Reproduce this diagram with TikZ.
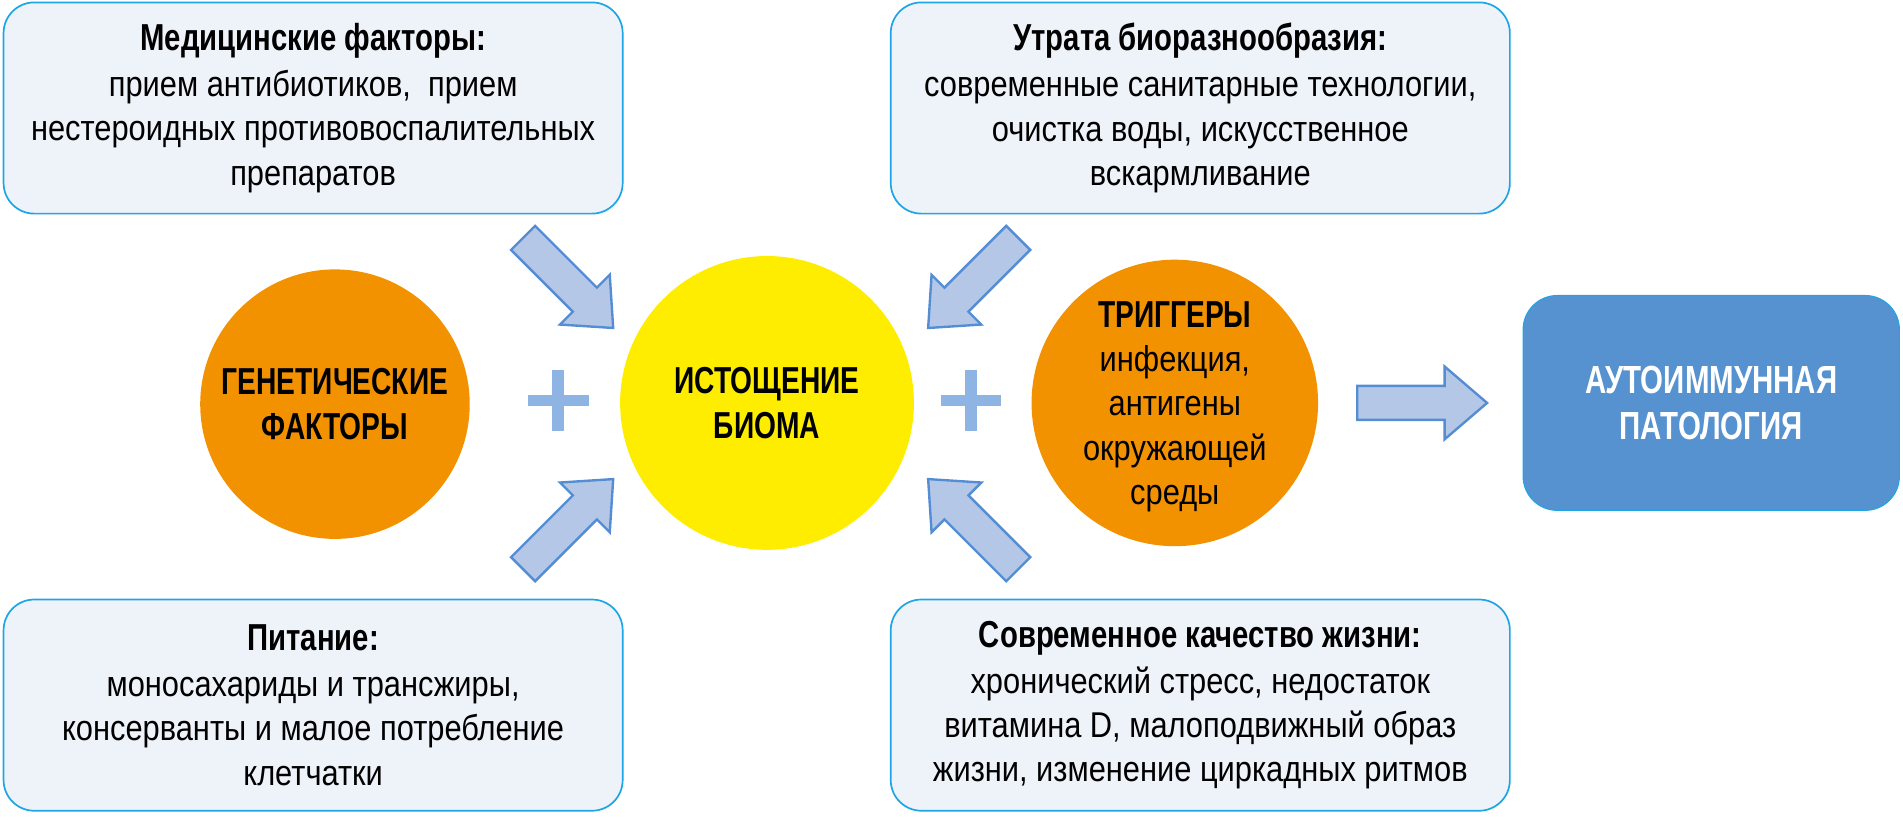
\documentclass[tikz,border=0pt]{standalone}
\usepackage{fontspec}
\setmainfont{Liberation Sans}[FakeStretch=0.86]
\newfontfamily\headfont{Liberation Sans}[FakeStretch=0.78]
\newfontfamily\capsfont{Liberation Sans}[FakeStretch=0.75]
\usetikzlibrary{positioning, calc}
\definecolor{boxfill}{RGB}{238, 243, 250}
\definecolor{boxedge}{RGB}{30, 165, 230}
\definecolor{genorange}{RGB}{243, 146, 0}
\definecolor{biomyellow}{RGB}{255, 237, 0}
\definecolor{arrowfill}{RGB}{180, 199, 231}
\definecolor{arrowedge}{RGB}{84, 141, 212}
\definecolor{plusblue}{RGB}{142, 180, 227}
\definecolor{pathblue}{RGB}{85, 146, 207}

\begin{document}
\begin{tikzpicture}[x=0.025cm, y=-0.025cm,
  factor/.style={draw=boxedge, line width=1pt, fill=boxfill, rounded corners=18pt,
    minimum width=12.75cm, minimum height=4.35cm, align=center,
    font=\fontsize{21}{26}\selectfont},
  ball/.style={circle, inner sep=0pt, align=center, font=\fontsize{21}{26}\selectfont},
  capstext/.style={font=\capsfont\bfseries\fontsize{22}{26.5}\selectfont, align=center},
  plusmark/.style={plusblue, line width=7pt},
  fatarrow/.style={draw=arrowedge, fill=arrowfill, line width=1.4pt, line join=miter}]
  \useasboundingbox (0,0) rectangle (1568,690);

  % Factor boxes
  \node[factor] (med) at (258,89) {{\headfont\bfseries\fontsize{22}{26}\selectfont Медицинские факторы:}\\[1pt]
    прием антибиотиков,~ прием\\ нестероидных противовоспалительных\\ препаратов};
  \node[factor] (bio) at (989,89) {{\headfont\bfseries\fontsize{22}{26}\selectfont Утрата биоразнообразия:}\\[1pt]
    современные санитарные технологии,\\ очистка воды, искусственное\\ вскармливание};
  \node[factor] (food) at (258,581) {{\headfont\bfseries\fontsize{22}{26}\selectfont Питание:}\\[1pt]
    моносахариды и трансжиры,\\ консерванты и малое потребление\\ клетчатки};
  \node[factor] (life) at (989,581) {{\headfont\bfseries\fontsize{22}{26}\selectfont Современное качество жизни:}\\[1pt]
    хронический стресс, недостаток\\ витамина D, малоподвижный образ\\ жизни, изменение циркадных ритмов};

  % Circles
  \node[ball, fill=genorange, minimum size=5.55cm] (gen) at (276,333) {};
  \node[capstext] at (gen) {ГЕНЕТИЧЕСКИЕ\\ ФАКТОРЫ};
  \node[ball, fill=biomyellow, minimum size=6.05cm] (biom) at (632,332) {};
  \node[capstext] at (biom) {ИСТОЩЕНИЕ\\ БИОМА};
  \node[ball, fill=genorange, minimum size=5.9cm] (trig) at (968,332) {};
  \node[ball] at ($(trig)+(0,3)$) {{\capsfont\bfseries\fontsize{22}{26}\selectfont ТРИГГЕРЫ}\\ инфекция,\\ антигены\\ окружающей\\ среды};

  % Result
  \node[draw=boxedge, line width=0.6pt, fill=pathblue, rounded corners=20pt,
    minimum width=7.75cm, minimum height=4.425cm, capstext,
    font=\capsfont\bfseries\fontsize{23}{26.5}\selectfont, text=white] (auto) at (1410,332)
    {АУТОИММУННАЯ\\ ПАТОЛОГИЯ};

  % Plus signs
  \foreach \px in {460, 800} {
    \draw[plusmark] (\px-25,330) -- (\px+25,330);
    \draw[plusmark] (\px,305) -- (\px,355);
  }

  % Block arrows into the biome
  \foreach \px/\py/\ang in {431/196/-45, 431/469/45, 839/196/-135, 839/469/135} {
    \begin{scope}[shift={(\px,\py)}, rotate=\ang]
      \draw[fatarrow] (0,-14) -- (72,-14) -- (72,-29) -- (105,0) -- (72,29) -- (72,14) -- (0,14) -- cycle;
    \end{scope}
  }

  % Arrow to the pathology
  \begin{scope}[shift={($(trig.east)+(32,0)$)}]
    \draw[fatarrow] (0,-14) -- (72,-14) -- (72,-30) -- (107,0) -- (72,30) -- (72,14) -- (0,14) -- cycle;
  \end{scope}
\end{tikzpicture}
\end{document}
